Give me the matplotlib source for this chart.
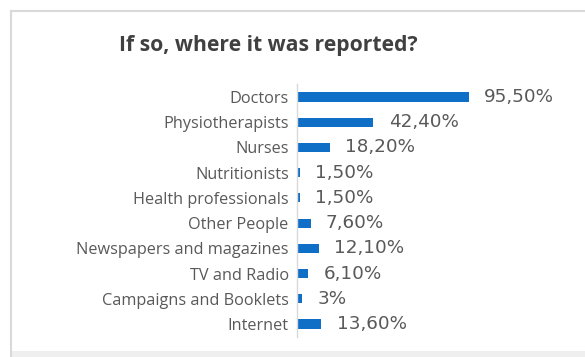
import matplotlib
matplotlib.use("Agg")
import matplotlib.pyplot as plt
from matplotlib.patches import Rectangle
from matplotlib.lines import Line2D

categories = [
    "Doctors", "Physiotherapists", "Nurses", "Nutritionists",
    "Health professionals", "Other People", "Newspapers and magazines",
    "TV and Radio", "Campaigns and Booklets", "Internet",
]
values = [95.5, 42.4, 18.2, 1.5, 1.5, 7.6, 12.1, 6.1, 3.0, 13.6]
value_labels = ["95,50%", "42,40%", "18,20%", "1,50%", "1,50%",
                "7,60%", "12,10%", "6,10%", "3%", "13,60%"]
title = "If so, where it was reported?"

W, H = 585, 357
fig = plt.figure(figsize=(W / 100, H / 100), dpi=100)
fig.patch.set_facecolor("white")

# outer card frame
fig.add_artist(Line2D([11 / W, 1.0], [1 - 11 / H, 1 - 11 / H],
                      transform=fig.transFigure, color="#D9D9D9", lw=1.5))
fig.add_artist(Line2D([11 / W, 11 / W], [0, 1 - 11 / H],
                      transform=fig.transFigure, color="#D9D9D9", lw=1.5))
fig.add_artist(Rectangle((12 / W, 0), 1, 6 / H, transform=fig.transFigure,
                         facecolor="#EFEFEF", edgecolor="none"))

fig.text(268 / W, 1 - 45 / H, title, ha="center", va="center",
         fontsize=15.2, fontweight="bold", color="#404040",
         family="Open Sans")

row_top, row_step = 97, 25.22
n = len(categories)
ax_top = row_top - row_step / 2
ax_h = n * row_step
ax_left = 297
ax = fig.add_axes([ax_left / W, 1 - (ax_top + ax_h) / H,
                   (W - ax_left) / W, ax_h / H])
ax.set_facecolor("none")

y = list(range(n))
ax.barh(y, values, height=0.36, color="#0F6FC6")
ax.set_ylim(n - 0.5, -0.5)
ax.set_xlim(0, (W - ax_left) / 1.80)

for yi, v, lab in zip(y, values, value_labels):
    ax.annotate(lab, (v, yi), xytext=(11, 0), textcoords="offset points",
                ha="left", va="center", fontsize=13.2, color="#595959",
                family="DejaVu Sans")

ax.set_yticks(y)
ax.set_yticklabels(categories, fontsize=11.7, color="#595959",
                   family="Open Sans")
ax.tick_params(axis="y", length=0, pad=6)
ax.set_xticks([])
for s in ["top", "right", "bottom"]:
    ax.spines[s].set_visible(False)
ax.spines["left"].set_color("#D9D9D9")
ax.spines["left"].set_linewidth(1.0)

fig.savefig("out.png", dpi=100)
